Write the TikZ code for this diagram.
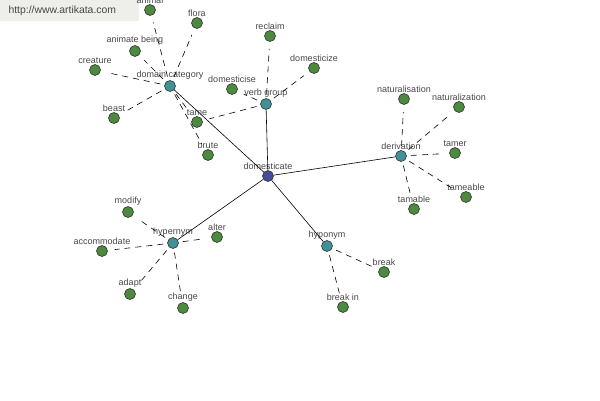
\documentclass[tikz,border=0pt]{standalone}
\usepackage{fontspec}
\setmainfont{Liberation Sans}
\usepackage{tikz}

\definecolor{leafgreen}{RGB}{76,138,62}
\definecolor{reltea}{RGB}{66,145,152}
\definecolor{rootblue}{RGB}{70,76,150}
\definecolor{labelgray}{RGB}{70,70,70}
\definecolor{bannergray}{RGB}{238,238,234}

\begin{document}
\begin{tikzpicture}[
    x=1pt, y=-1pt,
    dot/.style={draw=black!80, circle, minimum size=11pt, inner sep=0pt, line width=0.6pt,
        label={[font=\fontsize{9}{10}\selectfont, text=labelgray, label distance=-2.5pt]above:#1}},
    leaf/.style={dot=#1, fill=leafgreen},
    rel/.style={dot=#1, fill=reltea},
    root/.style={dot=#1, fill=rootblue},
    link/.style={line width=0.6pt},
    dlink/.style={line width=0.6pt, dash pattern=on 6pt off 5pt, shorten >=7pt, shorten <=4pt}
]
\useasboundingbox (0,0) rectangle (600,400);

% Banner
\node[fill=bannergray, minimum width=139pt, minimum height=21pt, anchor=north west, inner sep=0pt] (banner) at (0,0) {};
\node[text=labelgray, font=\fontsize{10.4}{12}\selectfont, anchor=west] (url) at (5,11) {http://www.artikata.com};

% Root and relations
\node[root=domesticate] (dom) at (268,176) {};
\node[rel={domain category}] (dcat) at (170,86) {};
\node[rel={verb group}] (vgrp) at (266,104) {};
\node[rel=derivation] (deriv) at (401,156) {};
\node[rel=hypernym] (hyper) at (173,243) {};
\node[rel=hyponym] (hypo) at (327,246) {};

% Domain category
\node[leaf=animal] (animal) at (150,10) {};
\node[leaf=flora] (flora) at (197,23) {};
\node[leaf={animate being}] (anim) at (135,51) {};
\node[leaf=creature] (creat) at (95,70) {};
\node[leaf=beast] (beast) at (114,118) {};
\node[leaf=tame] (tame) at (197,122) {};
\node[leaf=brute] (brute) at (208,155) {};

% Verb group
\node[leaf=domesticise] (dmse) at (232,89) {};
\node[leaf=reclaim] (recl) at (270,36) {};
\node[leaf=domesticize] (dmze) at (314,68) {};

% Derivation
\node[leaf=naturalisation] (nats) at (404,99) {};
\node[leaf=naturalization] (natz) at (459,107) {};
\node[leaf=tamer] (tamer) at (455,153) {};
\node[leaf=tameable] (tmeab) at (466,197) {};
\node[leaf=tamable] (tamab) at (414,209) {};

% Hypernym
\node[leaf=modify] (modif) at (128,212) {};
\node[leaf=accommodate] (accom) at (102,251) {};
\node[leaf=alter] (alter) at (217,237) {};
\node[leaf=adapt] (adapt) at (130,294) {};
\node[leaf=change] (chng) at (183,308) {};

% Hyponym
\node[leaf=break] (brk) at (384,272) {};
\node[leaf={break in}] (brkin) at (343,307) {};

% Edges
\draw[link] (dom) -- (dcat);
\draw[link] (dom) -- (vgrp);
\draw[link] (dom) -- (deriv);
\draw[link] (dom) -- (hyper);
\draw[link] (dom) -- (hypo);

\foreach \n in {animal, flora, anim, creat, beast, tame, brute}
    \draw[dlink] (dcat) -- (\n);
\foreach \n in {dmse, recl, dmze, tame}
    \draw[dlink] (vgrp) -- (\n);
\foreach \n in {nats, natz, tamer, tmeab, tamab}
    \draw[dlink] (deriv) -- (\n);
\foreach \n in {modif, accom, alter, adapt, chng}
    \draw[dlink] (hyper) -- (\n);
\foreach \n in {brk, brkin}
    \draw[dlink] (hypo) -- (\n);

\end{tikzpicture}
\end{document}
